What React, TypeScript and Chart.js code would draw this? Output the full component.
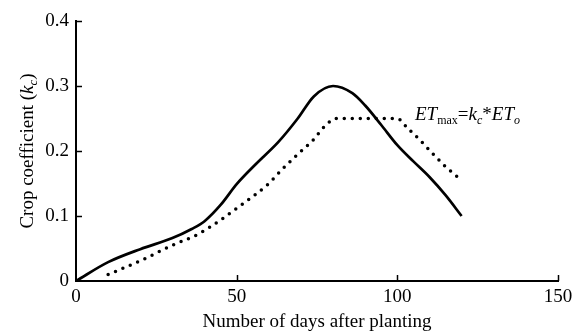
import React, { useEffect, useRef } from "react";
import { Chart, registerables } from "chart.js";

Chart.register(...registerables);

// Solid curve: crop coefficient kc
const solidDays = [0, 10, 20, 30, 36, 40, 45, 50, 56, 63, 69, 74, 80, 86, 90, 95, 100, 105, 110, 115, 120];
const solidKc = [0, 0.029, 0.049, 0.066, 0.08, 0.092, 0.117, 0.149, 0.18, 0.214, 0.25, 0.284, 0.3, 0.289, 0.27, 0.24, 0.209, 0.184, 0.16, 0.132, 0.1];

// Dotted curve
const dottedDays = [10, 20, 30, 38, 45, 52, 60, 64, 69, 74, 77, 81, 90, 100, 103, 107, 111, 115, 120];
const dottedKc = [0.01, 0.031, 0.055, 0.072, 0.094, 0.119, 0.15, 0.171, 0.195, 0.218, 0.236, 0.25, 0.25, 0.25, 0.236, 0.217, 0.196, 0.176, 0.155];

const xTickValues = [0, 50, 100, 150];
const yTickValues = [0, 0.1, 0.2, 0.3, 0.4];

const xTitle = "Number of days after planting";
type Part = { t: string; italic?: boolean; sub?: boolean };
const yTitleParts: Part[] = [
  { t: "Crop coefficient (" },
  { t: "k", italic: true },
  { t: "c", italic: true, sub: true },
  { t: ")" },
];
const annotationParts: Part[] = [
  { t: "ET", italic: true },
  { t: "max", sub: true },
  { t: "=" },
  { t: "k", italic: true },
  { t: "c", italic: true, sub: true },
  { t: "*" },
  { t: "ET", italic: true },
  { t: "o", italic: true, sub: true },
];

const FONT = '"Liberation Serif", "Times New Roman", serif';

function setFont(ctx: CanvasRenderingContext2D, p: Part, size: number, subSize: number) {
  ctx.font = `${p.italic ? "italic " : ""}${p.sub ? subSize : size}px ${FONT}`;
}

function measureRich(ctx: CanvasRenderingContext2D, parts: Part[], size: number, subSize: number) {
  let w = 0;
  for (const p of parts) {
    setFont(ctx, p, size, subSize);
    w += ctx.measureText(p.t).width;
  }
  return w;
}

function drawRich(ctx: CanvasRenderingContext2D, parts: Part[], x: number, y: number, size: number, subSize: number) {
  let cx = x;
  ctx.textAlign = "left";
  ctx.textBaseline = "alphabetic";
  for (const p of parts) {
    setFont(ctx, p, size, subSize);
    ctx.fillText(p.t, cx, p.sub ? y + size * 0.22 : y);
    cx += ctx.measureText(p.t).width;
  }
}

const decorPlugin = {
  id: "decor",
  afterDraw(chart: any) {
    const ctx: CanvasRenderingContext2D = chart.ctx;
    const xs = chart.scales.x;
    const ys = chart.scales.y;
    const area = chart.chartArea;
    ctx.save();
    ctx.strokeStyle = "#000";
    ctx.lineWidth = 1.5;
    // inward ticks
    for (const v of xTickValues) {
      if (v === 0) continue;
      const px = Math.round(xs.getPixelForValue(v)) + 0.5;
      ctx.beginPath();
      ctx.moveTo(px, area.bottom);
      ctx.lineTo(px, area.bottom - 6);
      ctx.stroke();
    }
    for (const v of yTickValues) {
      if (v === 0) continue;
      const py = Math.round(ys.getPixelForValue(v)) + 0.5;
      ctx.beginPath();
      ctx.moveTo(area.left, py);
      ctx.lineTo(area.left + 6, py);
      ctx.stroke();
    }
    ctx.fillStyle = "#000";
    // x title
    ctx.font = `19px ${FONT}`;
    ctx.textAlign = "center";
    ctx.textBaseline = "alphabetic";
    ctx.fillText(xTitle, (area.left + area.right) / 2, 327);
    // y title rotated
    const yw = measureRich(ctx, yTitleParts, 19, 13);
    ctx.save();
    ctx.translate(33, (area.top + area.bottom) / 2 + yw / 2);
    ctx.rotate(-Math.PI / 2);
    drawRich(ctx, yTitleParts, 0, 0, 19, 13);
    ctx.restore();
    // annotation
    drawRich(ctx, annotationParts, 415, 120, 19, 12);
    ctx.restore();
  },
};

export default function App() {
  const canvasRef = useRef<HTMLCanvasElement | null>(null);

  useEffect(() => {
    if (!canvasRef.current) return;
    const chart = new Chart(canvasRef.current, {
      type: "line",
      data: {
        datasets: [
          {
            data: solidDays.map((d, i) => ({ x: d, y: solidKc[i] })),
            borderColor: "#000",
            borderWidth: 2.7,
            pointRadius: 0,
            cubicInterpolationMode: "monotone",
            fill: false,
          },
          {
            data: dottedDays.map((d, i) => ({ x: d, y: dottedKc[i] })),
            borderColor: "#000",
            borderWidth: 3.5,
            borderDash: [0, 8],
            borderCapStyle: "round",
            pointRadius: 0,
            cubicInterpolationMode: "monotone",
            fill: false,
          },
        ],
      },
      options: {
        responsive: false,
        animation: false,
        events: [],
        layout: { padding: { top: 21, right: 27, left: 0, bottom: 0 } },
        plugins: { legend: { display: false }, tooltip: { enabled: false } },
        scales: {
          x: {
            type: "linear",
            min: 0,
            max: 150,
            afterBuildTicks: (s: any) => {
              s.ticks = xTickValues.map((v) => ({ value: v }));
            },
            ticks: { color: "#000", font: { family: FONT, size: 19 }, padding: 5, maxRotation: 0 },
            grid: { display: false, drawTicks: false },
            border: { display: true, color: "#000", width: 2 },
            afterFit: (s: any) => {
              s.height = 52;
            },
          },
          y: {
            type: "linear",
            min: 0,
            max: 0.4,
            afterBuildTicks: (s: any) => {
              s.ticks = yTickValues.map((v) => ({ value: v }));
            },
            ticks: {
              color: "#000",
              font: { family: FONT, size: 19 },
              padding: 7,
              callback: (v: any) => (Number(v) === 0 ? "0" : Number(v).toFixed(1)),
            },
            grid: { display: false, drawTicks: false },
            border: { display: true, color: "#000", width: 2 },
            afterFit: (s: any) => {
              s.width = 76;
            },
          },
        },
      },
      plugins: [decorPlugin],
    } as any);
    return () => chart.destroy();
  }, []);

  return (
    <div style={{ position: "absolute", left: 0, top: 0, width: 585, height: 333, background: "#fff" }}>
      <canvas ref={canvasRef} width={585} height={333} style={{ display: "block" }} />
    </div>
  );
}
